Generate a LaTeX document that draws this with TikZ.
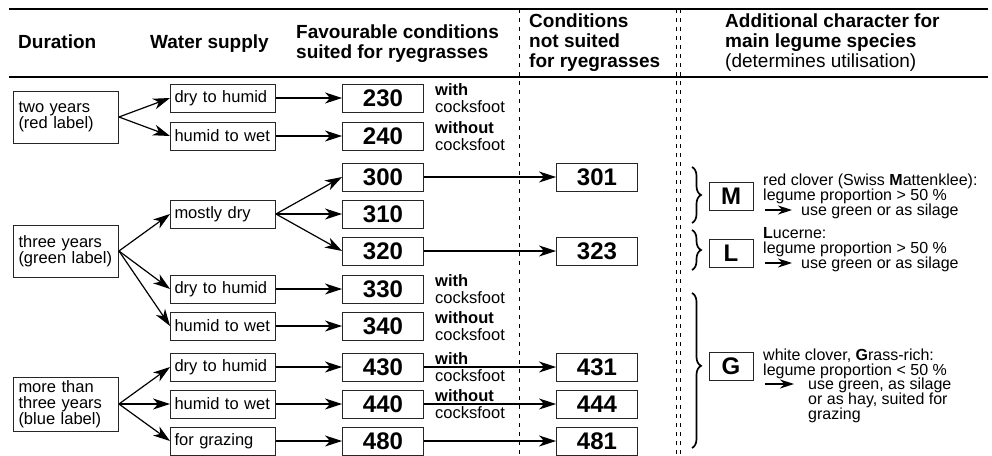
\documentclass[tikz,border=0pt]{standalone}
\usepackage{fontspec}
\setmainfont{Liberation Sans}
\usetikzlibrary{arrows.meta,positioning,decorations.pathreplacing}

\begin{document}
\begin{tikzpicture}[x=1pt, y=-1pt,
  durbox/.style={draw=black!85, line width=0.9pt, minimum height=52pt,
                 text width=95pt, inner xsep=5pt, align=left,
                 font=\fontsize{16.5}{16}\selectfont},
  waterbox/.style={draw=black!85, line width=0.9pt, minimum height=28pt,
                   text width=97pt, inner xsep=4pt, inner ysep=0pt, align=left,
                   font=\fontsize{16.5}{16}\selectfont},
  numbox/.style={draw=black!85, line width=0.9pt, minimum width=81pt,
                 minimum height=28pt, inner sep=0pt,
                 font=\fontsize{24}{24}\selectfont\bfseries},
  letbox/.style={draw=black!85, line width=0.9pt, minimum width=44pt,
                 minimum height=28pt, inner sep=0pt,
                 font=\fontsize{24}{24}\selectfont\bfseries},
  head/.style={anchor=base west, align=left, inner sep=0pt,
               font=\fontsize{19}{20}\selectfont\bfseries},
  cock/.style={anchor=base west, align=left, inner sep=0pt,
               font=\fontsize{16.5}{17}\selectfont},
  ldesc/.style={anchor=base west, align=left, inner sep=0pt,
                font=\fontsize{16}{15}\selectfont},
  arr/.style={-{Stealth[length=17pt, width=11pt, inset=5pt]}, line width=1.2pt},
  sarr/.style={-{Stealth[length=14pt, width=9pt, inset=4.5pt]}, line width=1.2pt},
  sep/.style={line width=0.8pt, dash pattern=on 4pt off 5pt},
  curly/.style={decorate, decoration={brace, amplitude=9pt}, line width=1.7pt}
]
\useasboundingbox (0,0) rectangle (992,455);

% Header (multi-line texts sit on the baseline of their last line)
\draw[line width=1.6pt] (9,9) -- (988,9);
\draw[line width=1.6pt] (9,77) -- (988,77);
\node[head] (hdur) at (18,48) {Duration};
\node[head] (hwat) at (150,48) {Water supply};
\node[head] (hfav) at (296,58) {Favourable conditions\\suited for ryegrasses};
\node[head] (hnot) at (529,67) {Conditions\\not suited\\for ryegrasses};
\node[head] (hadd) at (725,67) {Additional character for\\main legume species\\
  \fontseries{m}\selectfont(determines utilisation)};

% Column separators
\draw[sep] (519,9) -- (519,455);
\draw[sep] (676,9) -- (676,455);
\draw[sep] (680,9) -- (680,455);

% Two years
\node[durbox] (d2) at (66,117) {two years\\(red label)};
\node[waterbox] (w23) at (223,98) {dry to humid};
\node[waterbox] (w24) at (223,136) {humid to wet};
\node[numbox] (n230) at (383,98) {230};
\node[numbox] (n240) at (383,136) {240};
\node[cock] at (435,112) {\textbf{with}\\cocksfoot};
\node[cock] at (435,150) {\textbf{without}\\cocksfoot};

% Three years
\node[durbox] (d3) at (66,251) {three years\\(green label)};
\node[waterbox] (w30) at (223,214) {mostly dry};
\node[waterbox] (w33) at (223,289) {dry to humid};
\node[waterbox] (w34) at (223,326) {humid to wet};
\node[numbox] (n300) at (383,177) {300};
\node[numbox] (n310) at (383,214) {310};
\node[numbox] (n320) at (383,251) {320};
\node[numbox] (n330) at (383,289) {330};
\node[numbox] (n340) at (383,326) {340};
\node[cock] at (435,303) {\textbf{with}\\cocksfoot};
\node[cock] at (435,340) {\textbf{without}\\cocksfoot};
\node[numbox] (n301) at (597,177) {301};
\node[numbox] (n323) at (597,251) {323};

% More than three years
\node[durbox] (dm) at (66,404) {more than\\three years\\(blue label)};
\node[waterbox] (w43) at (223,367) {dry to humid};
\node[waterbox] (w44) at (223,404) {humid to wet};
\node[waterbox] (w48) at (223,441) {for grazing};
\node[numbox] (n430) at (383,367) {430};
\node[numbox] (n440) at (383,404) {440};
\node[numbox] (n480) at (383,441) {480};
\node[numbox] (n431) at (597,367) {431};
\node[numbox] (n444) at (597,404) {444};
\node[numbox] (n481) at (597,441) {481};

% Arrows
\draw[arr] (d2.east) -- (w23.west);
\draw[arr] (d2.east) -- (w24.west);
\draw[arr] (w23.east) -- (n230.west);
\draw[arr] (w24.east) -- (n240.west);
\draw[arr] (d3.east) -- (w30.west);
\draw[arr] (d3.east) -- (w33.west);
\draw[arr] (d3.east) -- (w34.west);
\draw[arr] (w30.east) -- (n300.west);
\draw[arr] (w30.east) -- (n310.west);
\draw[arr] (w30.east) -- (n320.west);
\draw[arr] (w33.east) -- (n330.west);
\draw[arr] (w34.east) -- (n340.west);
\draw[arr] (n300.east) -- (n301.west);
\draw[arr] (n320.east) -- (n323.west);
\draw[arr] (dm.east) -- (w43.west);
\draw[arr] (dm.east) -- (w44.west);
\draw[arr] (dm.east) -- (w48.west);
\draw[arr] (w43.east) -- (n430.west);
\draw[arr] (w44.east) -- (n440.west);
\draw[arr] (w48.east) -- (n480.west);
\draw[arr] (n430.east) -- (n431.west);
\draw[arr] (n440.east) -- (n444.west);
\draw[arr] (n480.east) -- (n481.west);
\node[cock, fill=white, inner ysep=1pt] at (435,364) {\textbf{with}};
\node[cock] at (435,381) {cocksfoot};
\node[cock, fill=white, inner ysep=1pt] at (435,401) {\textbf{without}};
\node[cock] at (435,418) {cocksfoot};

% Legume species
\draw[curly] (692,167) -- (692,223);
\draw[curly] (692,230) -- (692,270);
\draw[curly, decoration={aspect=0.47}] (692,293) -- (692,448);
\node[letbox] (lm) at (731,196) {M};
\node[letbox] (ll) at (731,253) {L};
\node[letbox] (lg) at (731,366) {G};

\node[ldesc] (mhead) at (763,200) {red clover (Swiss \textbf{M}attenklee):\\legume proportion > 50 \%};
\node[ldesc] (muse) at (801,215) {use green or as silage};
\coordinate (marr) at (765,210);
\draw[sarr] (marr) -- ([xshift=-9pt]muse.west |- marr);

\node[ldesc] (lhead) at (763,253) {\textbf{L}ucerne:\\legume proportion > 50 \%};
\node[ldesc] (luse) at (801,268) {use green or as silage};
\coordinate (larr) at (765,263);
\draw[sarr] (larr) -- ([xshift=-9pt]luse.west |- larr);

\node[ldesc] (ghead) at (763,375) {white clover, \textbf{G}rass-rich:\\legume proportion < 50 \%};
\node[ldesc] (guse) at (808,419) {use green, as silage\\or as hay, suited for\\grazing};
\coordinate (garr) at (765,384);
\draw[sarr] (garr) -- ([xshift=-14pt]guse.west |- garr);
\end{tikzpicture}
\end{document}
